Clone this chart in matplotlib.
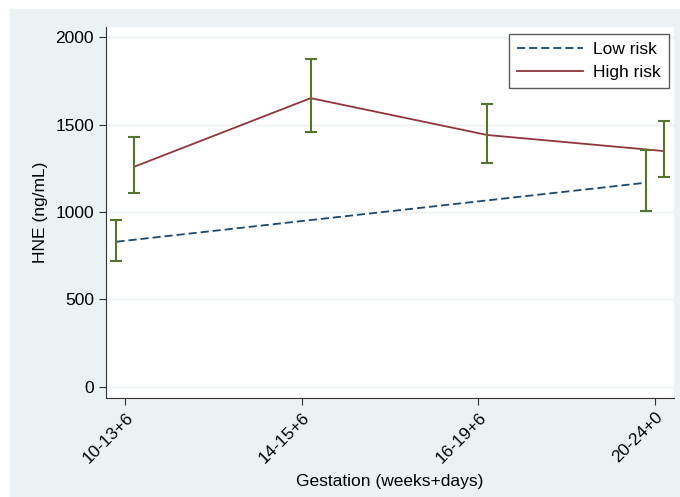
import numpy as np
import matplotlib.pyplot as plt

plt.rcParams['font.family'] = ['Liberation Sans', 'DejaVu Sans']

# gestation groups on the x axis
groups = ["10-13+6", "14-15+6", "16-19+6", "20-24+0"]

# low risk: only measured at first and last window
low_idx = [0, 3]
low_mean = [830, 1168]
low_lo = [718, 1007]
low_hi = [954, 1353]

# high risk: all four windows
high_mean = [1259, 1652, 1441, 1349]
high_lo = [1107, 1458, 1282, 1199]
high_hi = [1431, 1877, 1620, 1521]

navy = "#1a476f"
maroon = "#90353b"
green = "#55752f"
bg = "#eaf2f3"

fig = plt.figure(figsize=(6.8, 4.97), dpi=100, facecolor="white")
# light blue graph region like stata s2color
fig.patches.append(plt.Rectangle((10/680, 0), 670/680, 1 - 9/497,
                                 transform=fig.transFigure, color=bg, zorder=-1))
ax = fig.add_axes([105.7/680, 1 - 397.7/497, (674.3-105.7)/680, (397.7-26.7)/497])
ax.set_facecolor("white")

x = np.arange(1, len(groups) + 1)
off = 0.05
xl = x[low_idx] - off
xh = x + off

ax.plot(xl, low_mean, ls=(0, (4.5, 2.2)), color=navy, lw=1.3, label="Low risk")
ax.plot(xh, high_mean, color=maroon, lw=1.3, label="High risk")

ax.errorbar(xl, low_mean,
            yerr=[np.array(low_mean) - np.array(low_lo), np.array(low_hi) - np.array(low_mean)],
            fmt="none", ecolor=green, elinewidth=1.5, capsize=4, capthick=1.5)
ax.errorbar(xh, high_mean,
            yerr=[np.array(high_mean) - np.array(high_lo), np.array(high_hi) - np.array(high_mean)],
            fmt="none", ecolor=green, elinewidth=1.5, capsize=4, capthick=1.5)

ax.set_xlim(0.889, 4.109)
ax.set_ylim(-63, 2061)
ax.set_yticks([0, 500, 1000, 1500, 2000])
ax.set_xticks(x)
ax.set_xticklabels(groups, rotation=45, ha="right", rotation_mode="anchor")
ax.tick_params(labelsize=12.5, length=5, color="#333333")
ax.grid(axis="y", color=bg, lw=1)
ax.set_axisbelow(True)
for s in ["top", "right"]:
    ax.spines[s].set_visible(False)
for s in ["left", "bottom"]:
    ax.spines[s].set_color("#333333")

ax.set_ylabel("HNE (ng/mL)", fontsize=12.5, labelpad=5)
ax.set_xlabel("Gestation (weeks+days)", fontsize=12.5, labelpad=6)

leg = ax.legend(loc="upper right", bbox_to_anchor=(0.999, 0.995), fontsize=12.5,
                frameon=True, fancybox=False, edgecolor="#333333",
                handlelength=3.8, handletextpad=0.6, borderpad=0.45,
                labelspacing=0.45, borderaxespad=0.3)
leg.get_frame().set_linewidth(1)

fig.savefig("out.png", dpi=100, facecolor="white")
